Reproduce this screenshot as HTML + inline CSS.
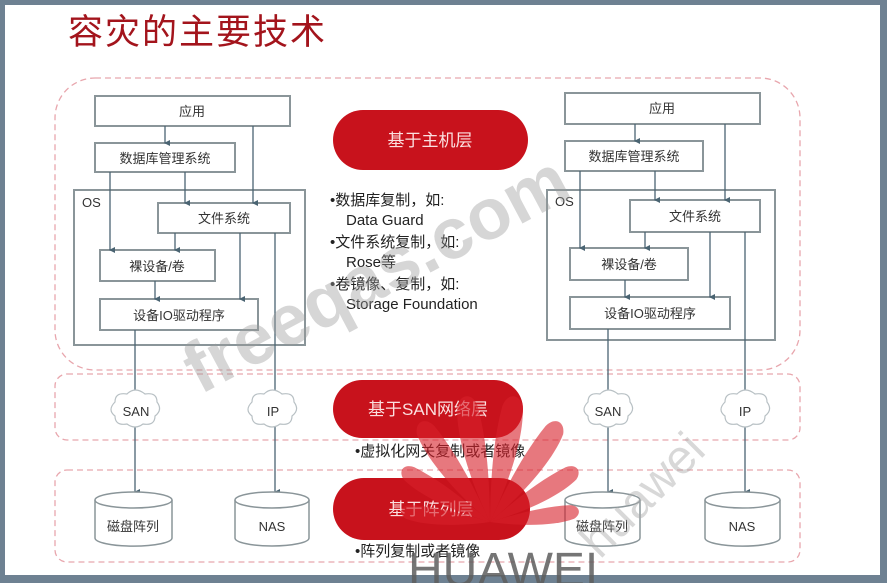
<!DOCTYPE html>
<html><head><meta charset="utf-8"><style>
html,body{margin:0;padding:0;background:#6e8192;}
svg{display:block}
</style></head><body>
<svg width="887" height="583" viewBox="0 0 887 583" xmlns="http://www.w3.org/2000/svg" font-family="Liberation Sans, Noto Sans CJK SC, sans-serif">
<defs>
<marker id="a" markerWidth="8" markerHeight="8" refX="4" refY="6" orient="auto-start-reverse" markerUnits="userSpaceOnUse"><path d="M1,1 L4,7 L7,1 z" fill="#4a6472"/></marker>
<path id="pet" d="M0 0 C-10 -40 -16 -90 -8 -120 C-2 -132 10 -130 12 -116 C14 -80 8 -40 0 0 Z"/>
</defs>
<rect x="0" y="0" width="887" height="583" fill="#6e8192"/>
<rect x="5" y="5" width="875" height="570" fill="#ffffff"/>
<text x="68" y="44" font-size="35" fill="#a3141c" letter-spacing="2">容灾的主要技术</text>

<g fill="none" stroke="#e8a6ad" stroke-width="1.3" stroke-dasharray="6,4">
<rect x="55" y="78" width="745" height="292" rx="40"/>
<rect x="55" y="374" width="745" height="66" rx="12"/>
<rect x="55" y="470" width="745" height="92" rx="12"/>
</g>

<g fill="#fff" stroke="#8a9599" stroke-width="2">
<rect x="74" y="190" width="231" height="155"/>
<rect x="95" y="96" width="195" height="30"/>
<rect x="95" y="143" width="140" height="29"/>
<rect x="158" y="203" width="132" height="30"/>
<rect x="100" y="250" width="115" height="31"/>
<rect x="100" y="299" width="158" height="31"/>
</g>
<g fill="#fff" stroke="#8a9599" stroke-width="2">
<rect x="547" y="190" width="228" height="150"/>
<rect x="565" y="93" width="195" height="31"/>
<rect x="565" y="141" width="138" height="30"/>
<rect x="630" y="200" width="130" height="32"/>
<rect x="570" y="248" width="118" height="32"/>
<rect x="570" y="297" width="160" height="32"/>
</g>
<g font-size="13" fill="#333" text-anchor="middle">
<text x="82" y="207" text-anchor="start">OS</text>
<text x="192" y="116">应用</text>
<text x="165" y="163">数据库管理系统</text>
<text x="224" y="223">文件系统</text>
<text x="157" y="271">裸设备/卷</text>
<text x="179" y="320">设备IO驱动程序</text>
<text x="555" y="206" text-anchor="start">OS</text>
<text x="662" y="113">应用</text>
<text x="634" y="161">数据库管理系统</text>
<text x="695" y="221">文件系统</text>
<text x="629" y="269">裸设备/卷</text>
<text x="650" y="318">设备IO驱动程序</text>
</g>
<g stroke="#4a6472" stroke-width="1.3" fill="none" marker-end="url(#a)">
<path d="M165 126V143"/><path d="M253 126V203"/><path d="M110 172V250"/><path d="M185 172V203"/>
<path d="M175 233V250"/><path d="M240 233V299"/><path d="M155 281V299"/>
<path d="M275 233V396"/><path d="M135 330V396"/>
<path d="M135 426V492"/><path d="M275 426V492"/>
<path d="M635 124V141"/><path d="M725 124V200"/><path d="M580 171V248"/><path d="M655 171V200"/>
<path d="M645 232V248"/><path d="M710 232V297"/><path d="M625 280V297"/>
<path d="M745 232V396"/><path d="M608 329V396"/>
<path d="M608 426V492"/><path d="M745 426V492"/>
</g>
<g fill="#fff" stroke="#b8c0c4" stroke-width="1.2">
<path d="M115 402 q0-10 12-8 q8-8 18 0 q12-2 12 8 q6 8-2 14 q0 10-12 8 q-8 6-16 0 q-12 2-12-8 q-8-6 0-14z"/>
<path d="M252 402 q0-10 12-8 q8-8 18 0 q12-2 12 8 q6 8-2 14 q0 10-12 8 q-8 6-16 0 q-12 2-12-8 q-8-6 0-14z"/>
<path d="M588 402 q0-10 12-8 q8-8 18 0 q12-2 12 8 q6 8-2 14 q0 10-12 8 q-8 6-16 0 q-12 2-12-8 q-8-6 0-14z"/>
<path d="M725 402 q0-10 12-8 q8-8 18 0 q12-2 12 8 q6 8-2 14 q0 10-12 8 q-8 6-16 0 q-12 2-12-8 q-8-6 0-14z"/>
</g>
<g font-size="13" fill="#333" text-anchor="middle">
<text x="136" y="416">SAN</text><text x="273" y="416">IP</text>
<text x="608" y="416">SAN</text><text x="745" y="416">IP</text>
</g>
<g fill="#fff" stroke="#8a9599" stroke-width="1.5">
<path d="M95 500 v38 a38 8 0 0 0 77 0 v-38"/><ellipse cx="133.5" cy="500" rx="38.5" ry="8"/>
<path d="M235 500 v38 a37 8 0 0 0 74 0 v-38"/><ellipse cx="272" cy="500" rx="37" ry="8"/>
<path d="M565 500 v38 a37 8 0 0 0 75 0 v-38"/><ellipse cx="602.5" cy="500" rx="37.5" ry="8"/>
<path d="M705 500 v38 a37 8 0 0 0 75 0 v-38"/><ellipse cx="742.5" cy="500" rx="37.5" ry="8"/>
</g>
<g font-size="13" fill="#333" text-anchor="middle">
<text x="133" y="531">磁盘阵列</text><text x="272" y="531">NAS</text>
<text x="602" y="531">磁盘阵列</text><text x="742" y="531">NAS</text>
</g>
<g fill="#c8121c">
<rect x="333" y="110" width="195" height="60" rx="30"/>
<rect x="333" y="380" width="190" height="58" rx="29"/>
<rect x="333" y="478" width="197" height="62" rx="31"/>
</g>
<g font-size="17" fill="#fbe0e0" text-anchor="middle">
<text x="430" y="146">基于主机层</text>
<text x="428" y="415">基于SAN网络层</text>
<text x="431" y="515">基于阵列层</text>
</g>
<g font-size="15" fill="#222">
<text x="330" y="205">•数据库复制，如:</text>
<text x="346" y="225">Data Guard</text>
<text x="330" y="247">•文件系统复制，如:</text>
<text x="346" y="267">Rose等</text>
<text x="330" y="289">•卷镜像、复制，如:</text>
<text x="346" y="309">Storage Foundation</text>
<text x="355" y="456">•虚拟化网关复制或者镜像</text>
<text x="355" y="556">•阵列复制或者镜像</text>
</g>
<text x="200" y="395" font-size="72" font-weight="bold" fill="#9a9a9a" opacity="0.4" transform="rotate(-28 200 395)">freeqas.com</text>
<g fill="#d8202a" opacity="0.6" transform="translate(490 522)">
<use href="#pet" transform="rotate(-12)"/>
<use href="#pet" transform="rotate(12) scale(-1 1)"/>
<use href="#pet" transform="rotate(-36) scale(0.95)"/>
<use href="#pet" transform="rotate(36) scale(-0.95 0.95)"/>
<use href="#pet" transform="rotate(-60) scale(0.8)"/>
<use href="#pet" transform="rotate(60) scale(-0.8 0.8)"/>
<use href="#pet" transform="rotate(-84) scale(0.7)"/>
<use href="#pet" transform="rotate(84) scale(-0.7 0.7)"/>
</g>
<text x="408" y="586" font-size="48" fill="#5e5e5e" opacity="0.85">HUAWEI</text>
<text x="600" y="560" font-size="48" fill="#aaa" opacity="0.45" transform="rotate(-45 600 560)">huawei</text>
</svg>
</body></html>
